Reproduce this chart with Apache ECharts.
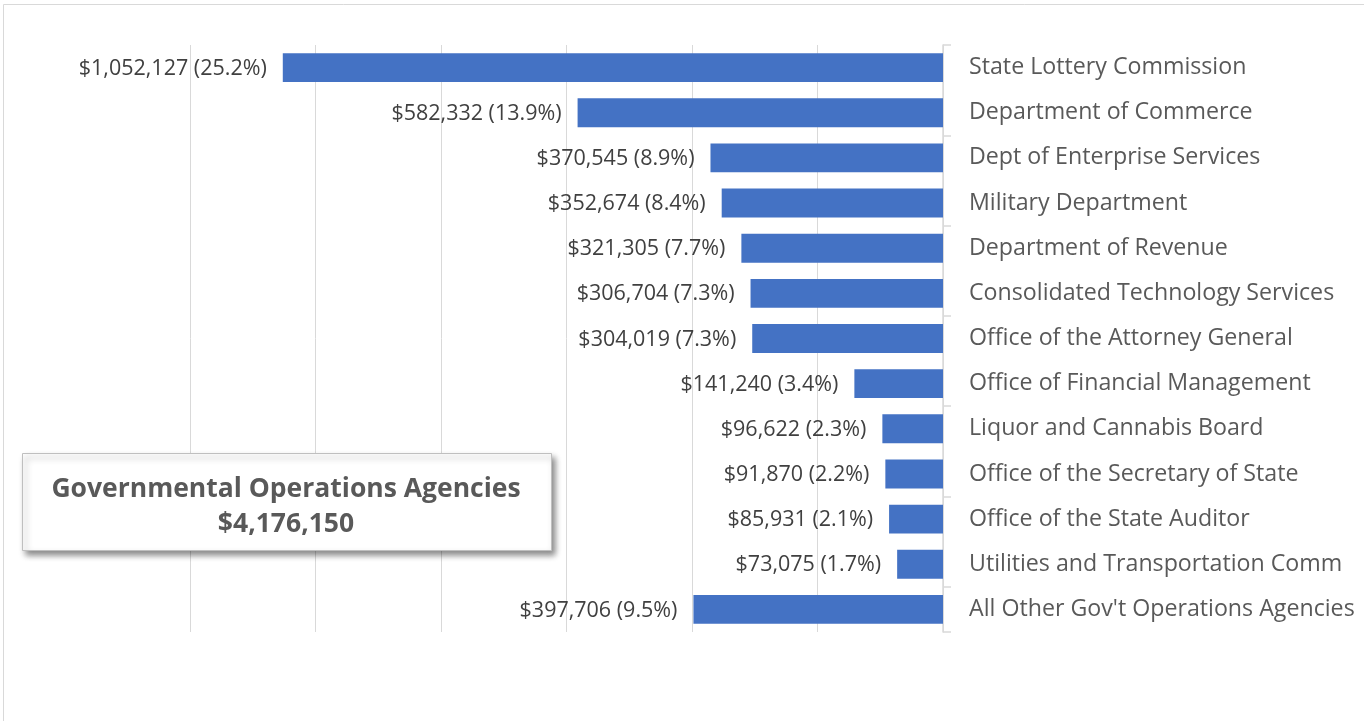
<!DOCTYPE html>
<html><head><meta charset="utf-8">
<script src="https://cdn.jsdelivr.net/npm/echarts@6/dist/echarts.min.js"></script>
<style>html,body{margin:0;padding:0;background:#fff}#c{width:1364px;height:721px}</style>
</head><body><div id="c"></div>
<script>
const categories = ["State Lottery Commission","Department of Commerce","Dept of Enterprise Services","Military Department","Department of Revenue","Consolidated Technology Services","Office of the Attorney General","Office of Financial Management","Liquor and Cannabis Board","Office of the Secretary of State","Office of the State Auditor","Utilities and Transportation Comm","All Other Gov't Operations Agencies"];
const values = [1052127,582332,370545,352674,321305,306704,304019,141240,96622,91870,85931,73075,397706];
const percents = [25.2,13.9,8.9,8.4,7.7,7.3,7.3,3.4,2.3,2.2,2.1,1.7,9.5];
const boxTitle = "Governmental Operations Agencies";
const boxTotal = "$4,176,150";

const FONT = "Open Sans";
const chart = echarts.init(document.getElementById('c'));
chart.setOption({
  animation:false,
  textStyle:{fontFamily:FONT},
  grid:{left:190,right:421,top:45,bottom:89,containLabel:false},
  xAxis:{type:'value',inverse:true,min:0,max:1200000,interval:200000,
    axisLabel:{show:false},axisLine:{show:false},axisTick:{show:false},
    splitLine:{show:true,lineStyle:{color:'#d9d9d9',width:1}}},
  yAxis:{type:'category',data:categories,inverse:true,position:'right',
    axisLine:{show:true,lineStyle:{color:'#d9d9d9',width:1.5}},
    axisTick:{show:true,interval:1,length:8,lineStyle:{color:'#d9d9d9',width:1.5}},
    axisLabel:{color:'#595959',fontSize:23.2,margin:26,fontFamily:FONT,padding:[2,0,0,0]}},
  series:[{type:'bar',data:values,barCategoryGap:'36%',
    itemStyle:{color:'#4472C4'},
    label:{show:true,position:'left',distance:16,color:'#404040',fontSize:21.5,fontFamily:FONT,offset:[0,1],
      formatter:p=>'$'+p.value.toLocaleString('en-US')+' ('+percents[p.dataIndex].toFixed(1)+'%)'}}],
  graphic:[
    {type:'rect',left:1,top:2,shape:{width:1361,height:717},style:{fill:'none',stroke:'#d9d9d9',lineWidth:1},z:-1},
    {type:'rect',left:22,top:453,shape:{width:529,height:97},
      style:{fill:'#fff',stroke:'#bfbfbf',lineWidth:1,shadowBlur:6,shadowOffsetX:3,shadowOffsetY:4,shadowColor:'rgba(0,0,0,0.45)'},z:10},
    {type:'text',x:286,y:489,z:11,
      style:{text:boxTitle,fill:'#595959',font:'bold 26.5px "'+FONT+'"',align:'center',verticalAlign:'middle'}},
    {type:'text',x:286,y:524,z:11,
      style:{text:boxTotal,fill:'#595959',font:'bold 26.5px "'+FONT+'"',align:'center',verticalAlign:'middle'}}
  ]
});
</script></body></html>
